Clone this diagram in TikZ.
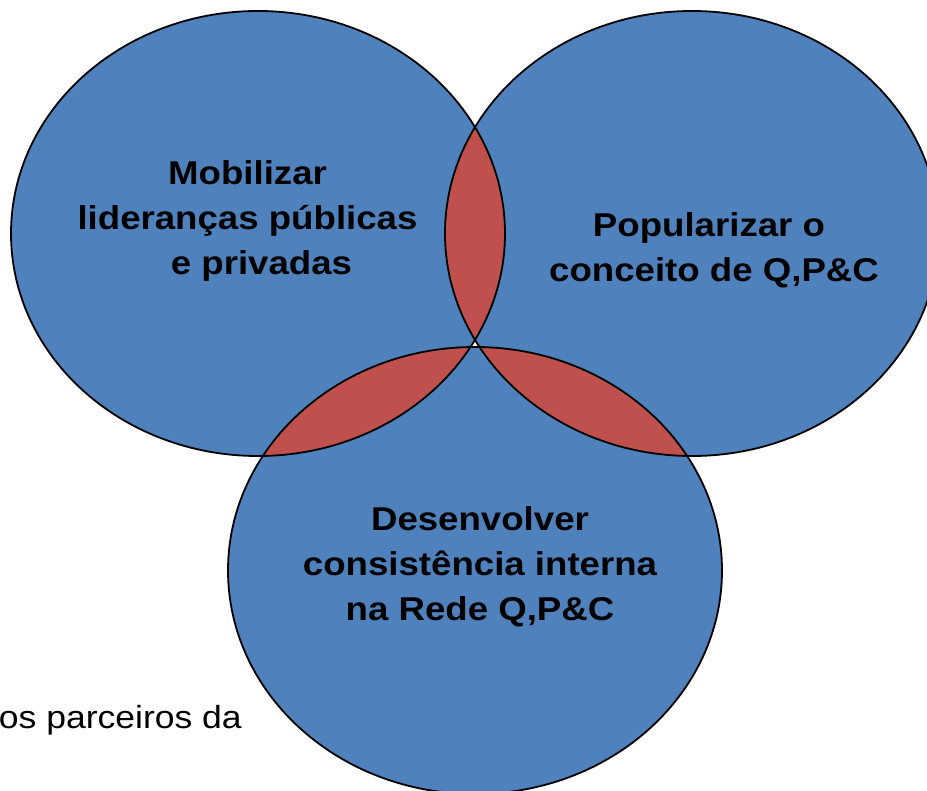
\documentclass[tikz,border=0pt]{standalone}
\usepackage{fontspec}
\setmainfont{Liberation Sans}[FakeStretch=1.11]
\definecolor{vblue}{HTML}{4F81BD}
\definecolor{vred}{HTML}{C0504D}
\begin{document}
\begin{tikzpicture}[x=1pt,y=-1pt,
  circ/.style={draw=black,line width=1.8pt},
  lbl/.style={font=\fontsize{33}{45}\selectfont\bfseries,align=center,inner sep=0pt,anchor=base,text=black},
  side/.style={font=\fontsize{32}{40}\selectfont,inner sep=0pt,anchor=base east,text=black}]
\useasboundingbox (0,0) rectangle (927,791);
\begin{scope}
\clip (0,0) rectangle (927,791);
\coordinate (cl) at (258,233.5);
\coordinate (cr) at (692,233.5);
\coordinate (cb) at (475,570.5);
% blue discs
\fill[vblue] (cl) ellipse [x radius=247, y radius=222.5];
\fill[vblue] (cr) ellipse [x radius=247, y radius=222.5];
\fill[vblue] (cb) ellipse [x radius=247, y radius=223.5];
% red overlaps
\begin{scope}
\clip (cl) ellipse [x radius=247, y radius=222.5];
\fill[vred] (cr) ellipse [x radius=247, y radius=222.5];
\fill[vred] (cb) ellipse [x radius=247, y radius=223.5];
\end{scope}
\begin{scope}
\clip (cr) ellipse [x radius=247, y radius=222.5];
\fill[vred] (cb) ellipse [x radius=247, y radius=223.5];
\end{scope}
% outlines
\draw[circ] (cl) ellipse [x radius=247, y radius=222.5];
\draw[circ] (cr) ellipse [x radius=247, y radius=222.5];
\draw[circ] (cb) ellipse [x radius=247, y radius=223.5];
% texts (base anchor = baseline of last line)
\node[lbl] (tl) at (247.5,275) {Mobilizar\\lideranças públicas\\\hspace*{28pt}e privadas};
\node[lbl] (tr) at (714,281.7) {Popularizar o\hspace*{10pt}\\conceito de Q,P\&C};
\node[lbl] (tb) at (480,620) {Desenvolver\\consistência interna\\na Rede Q,P\&C};
\node[side] (ts) at (242,728) {os parceiros da};
\end{scope}
\end{tikzpicture}
\end{document}
